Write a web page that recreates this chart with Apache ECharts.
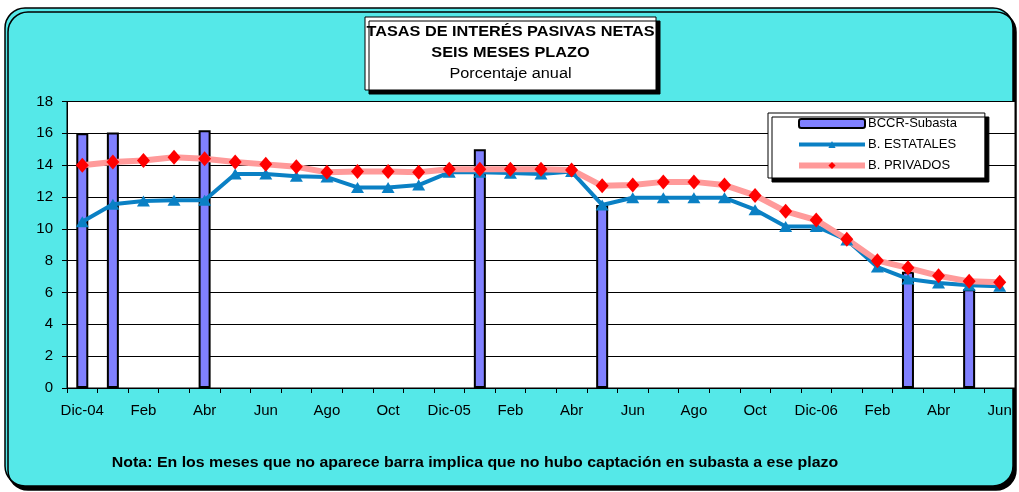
<!DOCTYPE html>
<html>
<head>
<meta charset="utf-8">
<script src="https://cdn.jsdelivr.net/npm/echarts@6/dist/echarts.min.js"></script>
<style>
  html, body { margin: 0; padding: 0; background: #ffffff; }
  #chart { width: 1019px; height: 492px; }
</style>
</head>
<body>
<div id="chart"></div>
<script>
// Monthly categories, December 2004 to June 2007
const categories = [
  'Dic-04', 'Ene', 'Feb', 'Mar', 'Abr', 'May', 'Jun', 'Jul', 'Ago', 'Sep', 'Oct', 'Nov',
  'Dic-05', 'Ene', 'Feb', 'Mar', 'Abr', 'May', 'Jun', 'Jul', 'Ago', 'Sep', 'Oct', 'Nov',
  'Dic-06', 'Ene', 'Feb', 'Mar', 'Abr', 'May', 'Jun'
];

// BCCR auction rate (only months with placements)
const subasta = [
  16.0, 16.05, null, null, 16.2, null, null, null, null, null, null, null,
  null, 15.0, null, null, null, 11.5, null, null, null, null, null, null,
  null, null, null, 7.3, null, 6.2, null
];

// State-owned banks
const estatales = [
  10.45, 11.55, 11.75, 11.8, 11.8, 13.45, 13.45, 13.3, 13.25, 12.6, 12.6, 12.75,
  13.55, 13.55, 13.5, 13.45, 13.6, 11.5, 11.95, 11.95, 11.95, 11.95, 11.2, 10.15,
  10.15, 9.3, 7.6, 6.85, 6.6, 6.45, 6.4
];

// Private banks
const privados = [
  14.0, 14.2, 14.3, 14.5, 14.4, 14.2, 14.05, 13.9, 13.55, 13.6, 13.6, 13.55,
  13.75, 13.75, 13.75, 13.75, 13.7, 12.7, 12.75, 12.95, 12.95, 12.75, 12.1, 11.1,
  10.55, 9.35, 8.0, 7.55, 7.05, 6.7, 6.65
];

const titleLines = ['TASAS DE INTERÉS PASIVAS NETAS', 'SEIS MESES PLAZO', 'Porcentaje anual'];
const noteText = 'Nota: En los meses que no aparece barra implica que no hubo captación en subasta a ese plazo';

const FONT = '"Liberation Sans", Arial, sans-serif';
const BLUE = '#0A80C4';
const PINK = '#FF9A9A';

const chart = echarts.init(document.getElementById('chart'), null, { renderer: 'canvas' });

// Title line, slightly widened around its own centre
function titleText(y, text, bold) {
  return {
    type: 'text', x: 510.5, y: y, scaleX: 1.05,
    style: { text: text, fontFamily: FONT, fontSize: 15.5, fontWeight: bold ? 'bold' : 'normal',
             fill: '#000', align: 'center', verticalAlign: 'middle' }
  };
}

chart.setOption({
  animation: false,
  textStyle: { fontFamily: FONT, color: '#000' },
  graphic: [
    {
      type: 'rect',
      z: -10,
      shape: { x: 5, y: 8, width: 1008, height: 478, r: 20 },
      style: {
        fill: '#55E8E8', stroke: '#000', lineWidth: 1.5,
        shadowColor: '#000', shadowOffsetX: 3, shadowOffsetY: 4, shadowBlur: 0
      }
    },
    {
      type: 'group',
      z: 100,
      children: [
        {
          type: 'rect',
          shape: { x: 365, y: 17, width: 291, height: 73 },
          style: {
            fill: '#fff', stroke: '#000', lineWidth: 1,
            shadowColor: '#000', shadowOffsetX: 4, shadowOffsetY: 4, shadowBlur: 0
          }
        },
        titleText(31.5, titleLines[0], true),
        titleText(53, titleLines[1], true),
        titleText(74, titleLines[2], false)
      ]
    },
    {
      type: 'text', z: 100, x: 475, y: 463, scaleX: 1.06,
      style: { text: noteText, fontFamily: FONT, fontSize: 15, fontWeight: 'bold',
               fill: '#000', align: 'center', verticalAlign: 'middle' }
    }
  ],
  legend: {
    orient: 'vertical',
    left: 768,
    top: 113,
    padding: [4, 28, 6, 28],
    itemGap: 8,
    itemWidth: 66,
    itemHeight: 9,
    backgroundColor: '#fff',
    borderColor: '#000',
    borderWidth: 1,
    shadowColor: '#000',
    shadowOffsetX: 4,
    shadowOffsetY: 4,
    shadowBlur: 0,
    textStyle: { fontFamily: FONT, fontSize: 13, color: '#000', padding: [0, 0, 0, -2] },
    data: [
      { name: 'BCCR-Subasta' },
      { name: 'B. ESTATALES', lineStyle: { color: BLUE, width: 4 }, itemStyle: { color: BLUE } },
      { name: 'B. PRIVADOS', lineStyle: { color: PINK, width: 6 }, itemStyle: { color: '#FF0000' } }
    ]
  },
  grid: {
    left: 67, right: 4, top: 101.5, bottom: 104,
    show: true, backgroundColor: '#fff', borderColor: '#000', borderWidth: 1
  },
  xAxis: {
    type: 'category',
    data: categories,
    boundaryGap: true,
    axisLine: { lineStyle: { color: '#000', width: 1 } },
    axisTick: { show: true, length: 5, inside: false, interval: 0, lineStyle: { color: '#000' } },
    axisLabel: { interval: 1, margin: 15, fontSize: 15, fontFamily: FONT, color: '#000' }
  },
  yAxis: {
    type: 'value',
    min: 0, max: 18, interval: 2,
    axisLine: { show: true, lineStyle: { color: '#000', width: 1 } },
    axisTick: { show: true, length: 5, inside: false, lineStyle: { color: '#000' } },
    axisLabel: { margin: 14, fontSize: 15, fontFamily: FONT, color: '#000' },
    splitLine: { show: true, lineStyle: { color: '#000', width: 1 } }
  },
  series: [
    {
      name: 'BCCR-Subasta',
      type: 'bar',
      data: subasta,
      barWidth: 12,
      itemStyle: { color: '#8080FF', borderColor: '#000', borderWidth: 2 }
    },
    {
      name: 'B. ESTATALES',
      type: 'line',
      data: estatales,
      symbol: 'triangle',
      symbolSize: [13, 11],
      showAllSymbol: true,
      lineStyle: { color: BLUE, width: 4 },
      itemStyle: { color: BLUE }
    },
    {
      name: 'B. PRIVADOS',
      type: 'line',
      data: privados,
      symbol: 'diamond',
      symbolSize: [13, 15],
      showAllSymbol: true,
      lineStyle: { color: PINK, width: 6 },
      itemStyle: { color: '#FF0000' }
    }
  ]
});
</script>
</body>
</html>
